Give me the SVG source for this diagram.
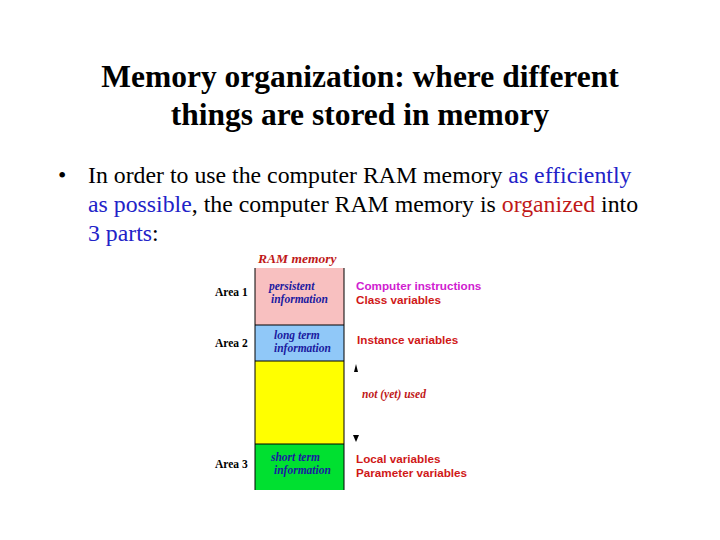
<svg xmlns="http://www.w3.org/2000/svg" width="720" height="540" viewBox="0 0 720 540">
<style>
.t{font-family:"Liberation Serif",serif;fill:#000}
.a{font-family:"Liberation Serif",serif;font-size:11.5px;font-weight:bold}
.i{font-family:"Liberation Serif",serif;font-size:11.5px;font-style:italic;font-weight:bold;fill:#1a1aa0}
.s{font-family:"Liberation Sans",sans-serif;font-size:11.7px;font-weight:bold;fill:#d01818}
.ln{stroke:#000;stroke-width:1}
</style>
<rect width="720" height="540" fill="#fff"/>
<g id="title"><text class="t" font-size="31.5" font-weight="bold" text-anchor="middle" x="360" y="87">Memory organization: where different</text>
<text class="t" font-size="31.5" font-weight="bold" text-anchor="middle" x="360" y="125">things are stored in memory</text></g>
<g id="bullet" class="t" font-size="23.8">
<text x="58" y="183">•</text>
<text x="88" y="183">In order to use the computer RAM memory <tspan fill="#2222c8">as efficiently</tspan></text>
<text x="88" y="212"><tspan fill="#2222c8">as possible</tspan>, the computer RAM memory is <tspan fill="#c01818">organized</tspan> into</text>
<text x="88" y="241"><tspan fill="#2222c8">3 parts</tspan>:</text>
</g>
<g id="ram">
<text x="258" y="263" font-family="Liberation Serif,serif" font-size="13.5" font-style="italic" font-weight="bold" fill="#c01818">RAM memory</text>
<rect x="255" y="268" width="89" height="57" fill="#f8c0c0"/>
<rect x="255" y="325" width="89" height="36" fill="#90c8f8"/>
<rect x="255" y="361" width="89" height="83" fill="#ffff00"/>
<rect x="255" y="444" width="89" height="46" fill="#00e030"/>
<line class="ln" x1="255" y1="268" x2="255" y2="490"/>
<line class="ln" x1="344" y1="268" x2="344" y2="490"/>
<line class="ln" x1="255" y1="325" x2="344" y2="325"/>
<line class="ln" x1="255" y1="361" x2="344" y2="361"/>
<line class="ln" x1="255" y1="444" x2="344" y2="444"/>
</g>
<g id="area1"><text class="a" x="215" y="296">Area 1</text>
<text class="i" x="269" y="290">persistent</text><text class="i" x="271" y="303">information</text>
<text class="s" x="356" y="290" style="fill:#d020d0">Computer instructions</text>
<text class="s" x="356" y="304">Class variables</text></g>
<g id="area2"><text class="a" x="215" y="347">Area 2</text>
<text class="i" x="274" y="339">long term</text><text class="i" x="274" y="352">information</text>
<text class="s" x="357" y="344">Instance variables</text></g>
<g id="unused"><text x="362" y="398" font-family="Liberation Serif,serif" font-size="11.5" font-style="italic" font-weight="bold" fill="#c01818">not (yet) used</text></g>
<g id="area3"><text class="a" x="215" y="468">Area 3</text>
<text class="i" x="271" y="461">short term</text><text class="i" x="274" y="474">information</text>
<text class="s" x="356" y="463">Local variables</text>
<text class="s" x="356" y="477">Parameter variables</text></g>
<g id="connectors">
<path d="M354 372 L356 364 L358 372 Z" fill="#000"/>
<path d="M353 435 L359 435 L356 442 Z" fill="#000"/>
</g>
</svg>
